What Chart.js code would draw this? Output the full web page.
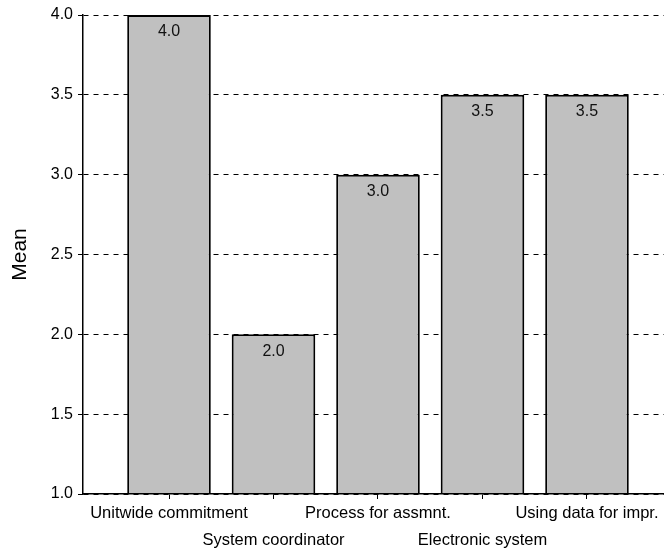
<!DOCTYPE html>
<html>
<head>
<meta charset="utf-8">
<script src="https://cdn.jsdelivr.net/npm/chart.js@4/dist/chart.umd.min.js"></script>
<style>
  html, body { margin: 0; padding: 0; background: #fff; }
  #wrap { width: 664px; height: 548px; }
</style>
</head>
<body>
<div id="wrap"><canvas id="meanChart" width="664" height="548"></canvas></div>
<script>
// chart data
const categories = ['Unitwide commitment', 'System coordinator', 'Process for assmnt.', 'Electronic system', 'Using data for impr.'];
const meanValues = [4.0, 2.0, 3.0, 3.5, 3.5];
const yTicks = [1.0, 1.5, 2.0, 2.5, 3.0, 3.5, 4.0];

const FONT = 'Liberation Sans, Arial, Helvetica, sans-serif';

// value labels at top of each bar
const valueLabels = {
  id: 'valueLabels',
  afterDatasetsDraw(chart) {
    const ctx = chart.ctx;
    const meta = chart.getDatasetMeta(0);
    ctx.save();
    ctx.font = '16px ' + FONT;
    ctx.fillStyle = '#111';
    ctx.textAlign = 'center';
    ctx.textBaseline = 'middle';
    meta.data.forEach((bar, i) => {
      ctx.fillText(meanValues[i].toFixed(1), bar.x, bar.y + 17);
    });
    ctx.restore();
  }
};

const ctx = document.getElementById('meanChart').getContext('2d');
new Chart(ctx, {
  type: 'bar',
  data: {
    datasets: [{
      label: 'Mean',
      data: meanValues.map((v, i) => ({ x: i, y: v })),
      backgroundColor: '#c0c0c0',
      borderColor: '#000',
      borderWidth: 2,
      barPercentage: 0.8,
      categoryPercentage: 1.0
    }]
  },
  options: {
    responsive: false,
    animation: false,
    layout: { padding: { top: 15, right: 0, left: 0, bottom: 0 } },
    plugins: {
      legend: { display: false },
      tooltip: { enabled: false }
    },
    scales: {
      x: {
        type: 'linear',
        offset: false,
        min: -0.823,
        max: 4.737,
        afterBuildTicks: scale => { scale.ticks = categories.map((c, i) => ({ value: i })); },
        afterFit: scale => {
          scale.height = 54;
          scale.paddingLeft = 0;
          scale.paddingRight = 0;
        },
        grid: { display: true, offset: false, drawOnChartArea: false, color: '#000', tickLength: 5, tickBorderDash: [] },
        border: { display: true, color: '#000', width: 1.5, z: 1 },
        ticks: {
          autoSkip: false,
          maxRotation: 0,
          padding: 1,
          color: '#000',
          font: { family: FONT, size: 16.5, lineHeight: 1.65 },
          callback: v => (v % 2 === 0 ? categories[v] : ['', categories[v]])
        }
      },
      y: {
        min: 1,
        max: 4,
        afterBuildTicks: scale => { scale.ticks = yTicks.map(v => ({ value: v })); },
        afterFit: scale => { scale.width = 83; },
        grid: { color: '#000', lineWidth: 1, tickLength: 5, tickBorderDash: [] },
        border: { display: true, color: '#000', width: 1.5, dash: [5, 5] },
        ticks: {
          padding: 5,
          color: '#000',
          font: { family: FONT, size: 16 },
          callback: v => v.toFixed(1)
        },
        title: {
          display: true,
          text: 'Mean',
          color: '#000',
          font: { family: FONT, size: 21 },
          padding: { top: 8, bottom: 0 }
        }
      }
    }
  },
  plugins: [valueLabels]
});
</script>
</body>
</html>
